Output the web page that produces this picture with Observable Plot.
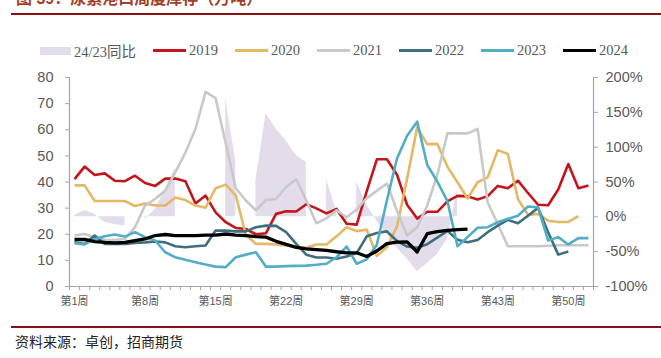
<!DOCTYPE html>
<html><head><meta charset="utf-8">
<script src="https://cdn.jsdelivr.net/npm/d3@7"></script>
<script src="https://cdn.jsdelivr.net/npm/@observablehq/plot@0.6"></script>
<style>
body{margin:0;background:#fff;width:661px;height:358px;overflow:hidden;position:relative;font-family:"Liberation Sans","Noto Sans CJK SC",sans-serif}
#chart{position:absolute;left:0;top:0}
#title{position:absolute;left:16px;top:-9px;font-weight:bold;font-size:16px;line-height:16px;font-family:"Liberation Sans","Noto Sans CJK SC",sans-serif;color:#A3402A;white-space:nowrap}
.rule{position:absolute;left:11px;right:0;height:2px;background:#8B1010}
#legend{position:absolute;left:40px;top:42px;height:17px;display:flex;align-items:center;font-size:14.5px;font-family:"Liberation Serif","Noto Sans CJK SC",serif;color:#595959;white-space:nowrap}
#legend .item{display:flex;align-items:center;margin-right:17px}
#legend .sw{width:33px;height:3px;margin-right:3px}
#legend .box{width:31px;height:8px;margin-right:3px}
#footer{position:absolute;left:15px;top:332px;font-size:14px;line-height:18px;font-family:"Noto Sans CJK SC",sans-serif;color:#222;white-space:nowrap}
</style></head>
<body>
<div id="chart"></div>
<div id="title">图 39：尿素港口周度库存（万吨）</div>
<div class="rule" style="top:13px"></div>
<div id="legend"></div>
<div class="rule" style="top:326px"></div>
<div id="footer">资料来源：卓创，招商期货</div>
<script>
// ---- data (万吨, 周) ----
const weeks = d3.range(1, 53);
const weekLabels = [1, 8, 15, 22, 29, 36, 43, 50];
const leftTicks = [0, 10, 20, 30, 40, 50, 60, 70, 80];
const rightTicks = [-100, -50, 0, 50, 100, 150, 200];
const seriesNames = ["2019", "2020", "2021", "2022", "2023", "2024"];
const areaName = "24/23同比";

const y2019 = [41.1,45.9,42.7,43.3,40.5,40.3,42.4,39.6,38.5,41.3,41.3,40.3,31.8,34.8,28.4,24.6,22.4,22.0,20.0,20.4,27.8,28.8,28.7,31.5,29.9,28.0,29.7,24.0,23.7,36.5,48.7,48.7,42.8,31.3,26.0,28.6,28.6,32.6,34.7,34.5,33.3,34.6,38.5,37.6,40.5,35.8,31.3,31.1,37.1,46.9,37.6,38.7];
const y2020 = [38.7,38.7,32.7,32.7,32.7,32.7,30.8,31.8,31.0,31.0,34.1,33.1,31.0,30.2,37.6,39.0,34.9,19.8,16.3,16.3,16.1,15.7,15.2,14.8,16.1,16.1,19.2,22.7,21.2,21.7,11.7,15.0,23.0,41.2,60.9,54.5,54.6,45.9,39.9,33.7,39.9,41.8,52.2,50.7,33.5,27.4,27.8,25.2,24.7,24.7,26.9,null];
const y2021 = [19.5,20.1,18.9,17.8,17.8,18.2,22.7,31.0,33.5,36.7,43.7,51.3,60.3,74.5,72.1,54.8,37.6,32.9,29.2,33.1,33.5,38.1,41.0,32.9,24.2,26.1,29.2,26.5,29.5,33.8,36.7,39.4,29.0,19.5,22.7,31.0,42.7,58.6,58.6,58.6,60.3,32.2,23.9,15.4,15.4,15.4,15.4,15.6,15.8,15.8,15.8,15.8];
const y2022 = [16.9,16.3,19.5,16.3,16.3,16.3,16.7,16.9,17.2,16.9,15.4,15.0,15.4,15.7,21.4,21.4,21.1,21.1,22.7,23.3,23.2,20.8,16.3,12.2,11.1,11.1,10.6,11.5,12.8,19.2,20.5,21.1,17.4,15.3,14.8,16.2,18.7,21.3,17.9,16.9,17.8,20.8,23.3,25.5,24.2,27.1,30.1,20.8,12.2,13.4,null,null];
const y2023 = [16.6,16.1,18.2,19.2,19.9,19.1,20.8,18.9,17.6,13.1,11.2,10.2,9.3,8.4,7.6,7.4,11.2,12.2,13.1,7.6,7.6,7.8,7.9,8.0,8.3,8.7,11.2,15.3,8.7,10.4,16.0,33.0,49.0,57.7,63.1,46.5,40.2,32.7,15.4,18.9,22.5,22.7,24.6,25.9,27.1,30.6,30.3,17.6,18.9,16.1,18.5,18.5];
const y2024 = [18.0,18.0,17.2,16.9,16.7,16.9,17.6,18.2,19.5,19.9,19.5,19.5,19.5,19.7,19.7,20.1,19.7,19.5,19.1,18.9,17.3,16.1,15.0,14.4,14.1,13.8,13.3,12.9,12.9,11.5,13.6,16.4,17.0,17.1,13.2,20.2,21.0,21.5,21.8,22.0,null,null,null,null,null,null,null,null,null,null,null,null];
// 24/23同比 (%), right axis
const yoy = [2,9,4,-8,-11,-13,null,-3,10,40,70,null,null,null,null,169,80,null,52,148,126,109,88,78,null,53,9,null,50,17,-6,-25,-45,-60,-79,-67,-54,-32,40,null,null,null,null,null,null,null,null,null,null,null,null,null];

const seriesValues = [y2019, y2020, y2021, y2022, y2023, y2024];
const seriesColors = ["#C3161C", "#E3B965", "#C9C9C9", "#3F6E7E", "#52ADC7", "#000000"];
const seriesWidths = [2.6, 2.6, 2.6, 2.6, 2.6, 3.3];
const areaColor = "#E3DCEA";

// right axis (-100%..200%) shares the left scale (0..80)
const pctToLeft = p => (p + 100) * 80 / 300;
const leftToPct = v => v * 300 / 80 - 100;

const axisStroke = "#A6A6A6";
const labelFill = "#595959";

const marks = [
  Plot.areaY(weeks, {x: w => w, y1: () => pctToLeft(0), y2: w => yoy[w - 1] == null ? null : pctToLeft(yoy[w - 1]), fill: areaColor}),
  ...seriesValues.map((vals, k) => Plot.line(weeks, {
    x: w => w, y: w => vals[w - 1], stroke: seriesColors[k], strokeWidth: seriesWidths[k], strokeLinejoin: "round", strokeLinecap: "butt"
  })),
  Plot.ruleY([0], {stroke: axisStroke, strokeWidth: 1.2}),
  Plot.ruleX([0.5], {stroke: axisStroke, strokeWidth: 1.2}),
  Plot.ruleX([52.5], {stroke: axisStroke, strokeWidth: 1.2}),
  Plot.axisX(d3.range(0.5, 53, 1), {tickSize: 4, tickFormat: () => "", stroke: axisStroke, label: null}),
  Plot.axisX(weekLabels, {tickSize: 0, tickPadding: 11, tickFormat: d => `第${d}周`, fontSize: 11, fill: labelFill, label: null}),
  Plot.axisY(leftTicks, {anchor: "left", tickSize: 4, tickPadding: 12, fontSize: 14.5, stroke: axisStroke, fill: labelFill, label: null}),
  Plot.axisY(rightTicks.map(pctToLeft), {anchor: "right", tickSize: 4, tickPadding: 8, fontSize: 14.5, stroke: axisStroke, fill: labelFill, label: null, tickFormat: v => `${Math.round(leftToPct(v))}%`})
];

const chart = Plot.plot({
  width: 661, height: 358,
  marginTop: 77, marginBottom: 72, marginLeft: 69, marginRight: 68,
  x: {domain: [0.5, 52.5], axis: null},
  y: {domain: [0, 80], axis: null},
  style: {fontFamily: '"Liberation Sans","Noto Sans CJK SC",sans-serif', background: "transparent", overflow: "visible"},
  marks
});
document.getElementById("chart").appendChild(chart);

// legend
const legend = document.getElementById("legend");
const addItem = (label, color, isArea) => {
  const it = document.createElement("div"); it.className = "item";
  const sw = document.createElement("div"); sw.className = isArea ? "box" : "sw"; sw.style.background = color;
  if (!isArea && label === "2024") sw.style.height = "3.5px";
  const t = document.createElement("span"); t.textContent = label;
  it.appendChild(sw); it.appendChild(t); legend.appendChild(it);
};
addItem(areaName, areaColor, true);
seriesNames.forEach((n, k) => addItem(n, seriesColors[k], false));
</script>
</body></html>
